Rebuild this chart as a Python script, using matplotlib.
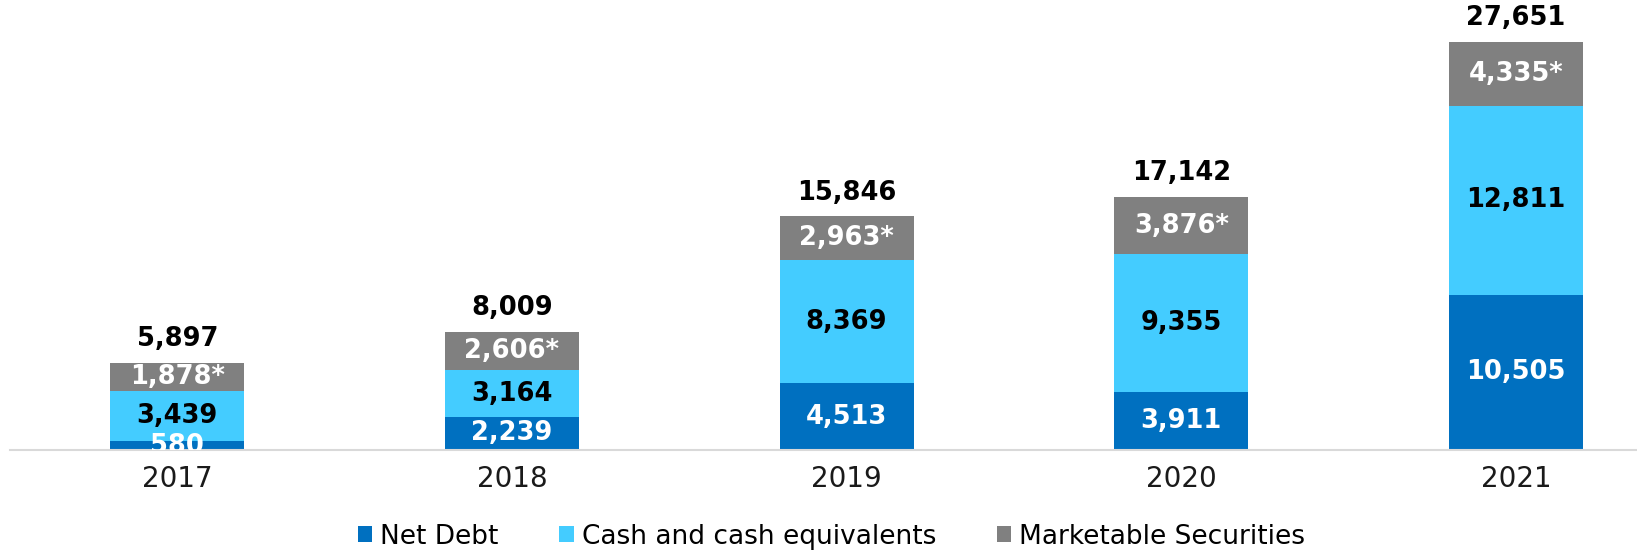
import matplotlib.pyplot as plt
import numpy as np

plt.rcParams['font.family'] = ['DejaVu Sans']

years = ['2017', '2018', '2019', '2020', '2021']
net_debt = [580, 2239, 4513, 3911, 10505]
cash = [3439, 3164, 8369, 9355, 12811]
securities = [1878, 2606, 2963, 3876, 4335]
totals = [5897, 8009, 15846, 17142, 27651]

c_debt = '#0070C0'
c_cash = '#44CCFF'
c_sec = '#808080'

fig = plt.figure(figsize=(16.37, 5.51), dpi=100)
ax = fig.add_axes([10 / 1637, 101 / 551, 1 - 10 / 1637, 450 / 551])

x = np.arange(len(years))
w = 0.4
b1 = ax.bar(x, net_debt, w, color=c_debt, label='Net Debt')
b2 = ax.bar(x, cash, w, bottom=net_debt, color=c_cash, label='Cash and cash equivalents')
bottom3 = np.array(net_debt) + np.array(cash)
b3 = ax.bar(x, securities, w, bottom=bottom3, color=c_sec, label='Marketable Securities')

fs = 18.5
for i in range(len(years)):
    ax.text(x[i], net_debt[i] / 2, f'{net_debt[i]:,}', ha='center', va='center',
            color='white', fontsize=fs, fontweight='bold', clip_on=True)
    ax.text(x[i], net_debt[i] + cash[i] / 2, f'{cash[i]:,}', ha='center', va='center',
            color='black', fontsize=fs, fontweight='bold')
    ax.text(x[i], bottom3[i] + securities[i] / 2, f'{securities[i]:,}*', ha='center', va='center',
            color='white', fontsize=fs, fontweight='bold')
    ax.text(x[i], totals[i] + 1600, f'{totals[i]:,}', ha='center', va='center',
            color='black', fontsize=fs, fontweight='bold')

ax.set_xlim(-0.5, 4.362)
ax.set_ylim(0, 30490)
ax.set_xticks(x)
ax.set_xticklabels(years, fontsize=20, color='#1a1a1a')
ax.tick_params(axis='x', length=0, pad=11)
ax.set_yticks([])
for s in ['top', 'right', 'left']:
    ax.spines[s].set_visible(False)
ax.spines['bottom'].set_color('#D9D9D9')
ax.spines['bottom'].set_linewidth(1.5)

fig.legend(handles=[b1, b2, b3], loc='center', bbox_to_anchor=(0.508, 0.026), ncol=3,
           frameon=False, fontsize=19, handlelength=0.55, handleheight=0.55,
           handletextpad=0.3, columnspacing=2.3)

fig.savefig('out.png', dpi=100)
